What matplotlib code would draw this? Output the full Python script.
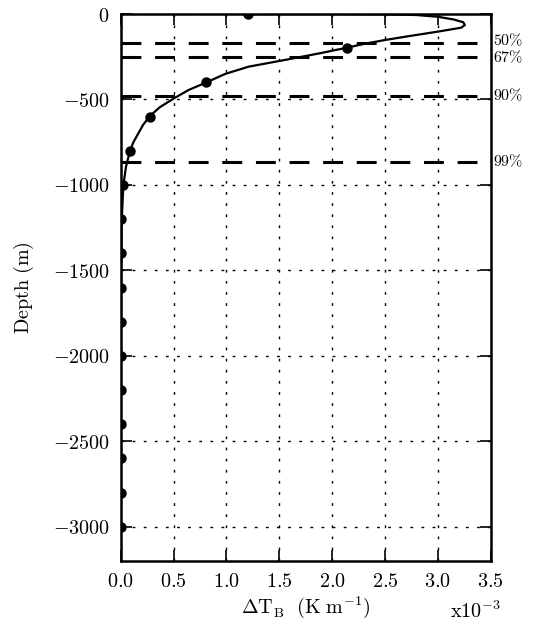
import matplotlib
matplotlib.use("Agg")
import matplotlib.pyplot as plt
import matplotlib.transforms as mtransforms
from matplotlib.ticker import FuncFormatter

plt.rcParams["mathtext.fontset"] = "cm"
plt.rcParams["font.family"] = "serif"

# curve (values in units of 1e-3 K/m, depth in m)
curve_val = [1.20, 2.00, 2.50, 2.80, 3.00, 3.15, 3.24, 3.256, 3.22, 3.00, 2.75,
             2.50, 2.30, 2.14, 1.88, 1.55, 1.21, 0.99, 0.81, 0.64, 0.50, 0.37,
             0.277, 0.21, 0.165, 0.12, 0.088, 0.05, 0.025, 0.01, 0.004, 0.001, 0.0]
curve_depth = [0, -0.5, -2, -6, -16, -32, -48, -64, -80, -103, -127,
               -152, -175, -197, -230, -269, -308, -350, -400, -445, -495, -545,
               -596, -650, -700, -750, -800, -893, -1000, -1200, -1500, -2000, -3200]

# sampled points
pts_depth = [0, -200, -400, -600, -800, -1000, -1200, -1400, -1600, -1800,
             -2000, -2200, -2400, -2600, -2800, -3000]
pts_val = [1.20, 2.14, 0.81, 0.277, 0.088, 0.025, 0.006, 0.003, 0.002, 0.001,
           0.001, 0.0005, 0.0003, 0.0002, 0.0001, 0.0]

# percentage depths
pct_depth = [-171, -250, -478, -864]
pct_labels = ["50%", "67%", "90%", "99%"]
pct_label_depth = [-158, -254, -478, -864]

fig = plt.figure(figsize=(5.37, 6.26), dpi=100)
ax = fig.add_axes([0.2248, 0.1038, 0.689, 0.8738])

ax.grid(True, color="k", linestyle=(0, (2, 6)), linewidth=1.0)
ax.set_axisbelow(True)

for d in pct_depth:
    ax.axhline(d, color="k", linewidth=2.2, dashes=(6.5, 4.5))

ax.plot(curve_val, curve_depth, color="k", linewidth=1.6)
ax.plot(pts_val, pts_depth, "o", color="k", markersize=6.5)

trans = mtransforms.blended_transform_factory(ax.transAxes, ax.transData)
for d, lab in zip(pct_label_depth, pct_labels):
    ax.text(1.006, d, "$" + lab.replace("%", r"\%") + "$", transform=trans,
            fontsize=11.5, va="center", ha="left")

ax.set_xlim(0, 3.5)
ax.set_ylim(-3200, 0)
ax.set_xticks([0, 0.5, 1.0, 1.5, 2.0, 2.5, 3.0, 3.5])
ax.set_yticks([0, -500, -1000, -1500, -2000, -2500, -3000])
ax.xaxis.set_major_formatter(FuncFormatter(lambda v, p: "$%.1f$" % v))
ax.yaxis.set_major_formatter(FuncFormatter(lambda v, p: "$%d$" % v))

ax.tick_params(direction="in", length=8, width=1.2, top=True, right=True,
               labelsize=14.5, pad=8)
for s in ax.spines.values():
    s.set_linewidth(1.8)

ax.set_xlabel(r"$\Delta\mathrm{T_B}\ \ (\mathrm{K\ m^{-1}})$", fontsize=14.5, labelpad=2)
ax.set_ylabel(r"$\mathrm{Depth\ (m)}$", fontsize=14.5, labelpad=12)
fig.text(0.885, 0.024, r"$\mathrm{x10^{-3}}$", fontsize=14.5, ha="center", va="center")

fig.savefig("out.png", dpi=100)
